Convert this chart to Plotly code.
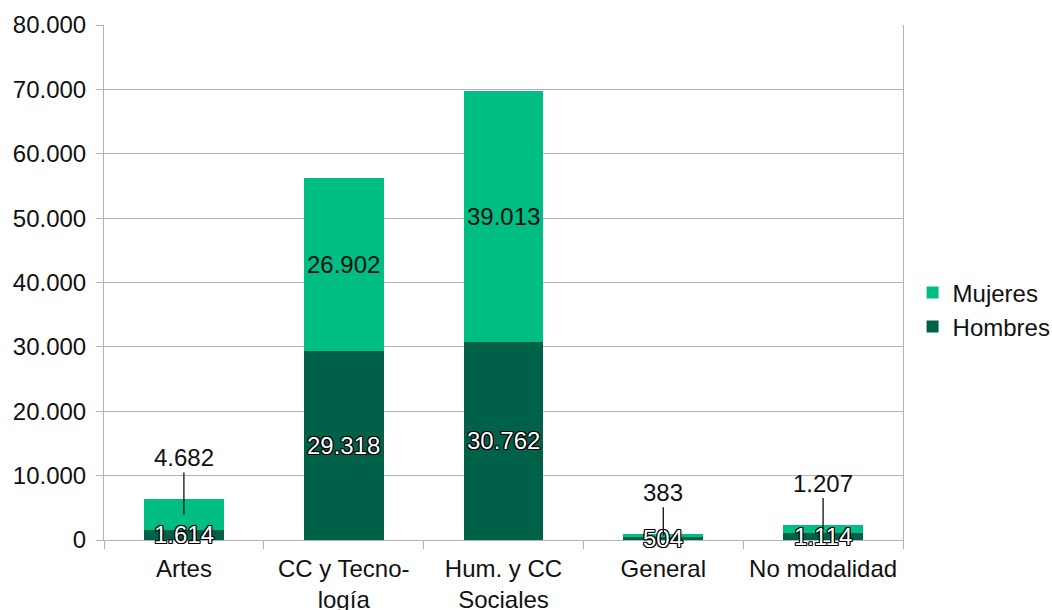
import plotly.graph_objects as go

categories = ["Artes", "CC y Tecno-<br>logía", "Hum. y CC<br>Sociales", "General", "No modalidad"]
hombres = [1614, 29318, 30762, 504, 1114]
mujeres = [4682, 26902, 39013, 383, 1207]
y_ticks = [0, 10000, 20000, 30000, 40000, 50000, 60000, 70000, 80000]

C_MUJ = "#00bd84"
C_HOM = "#006149"
FONT = "Liberation Sans"
TXT = "#111111"
FS = 24

W, H = 1052, 610
M_L, M_R, M_T, M_B = 104, 149, 25, 70
Y_MAX = 80000
px_per_unit = (H - M_T - M_B) / Y_MAX


def fmt(v):
    return f"{v:,}".replace(",", ".")


fig = go.Figure()
fig.add_trace(go.Bar(name="Hombres", x=categories, y=hombres, marker=dict(color=C_HOM, line=dict(width=0)), width=0.5))
fig.add_trace(go.Bar(name="Mujeres", x=categories, y=mujeres, marker=dict(color=C_MUJ, line=dict(width=0)), width=0.5))

outline = "1px 1px 0 #000, -1px -1px 0 #000, 1px -1px 0 #000, -1px 1px 0 #000, 0 1px 0 #000, 0 -1px 0 #000, 1px 0 0 #000, -1px 0 0 #000"
annotations = []
for c, h, m in zip(categories, hombres, mujeres):
    annotations.append(dict(x=c, y=h / 2, text=fmt(h), showarrow=False,
                            font=dict(family=FONT, size=FS, color="white", shadow=outline)))
    if m * px_per_unit > 40:
        annotations.append(dict(x=c, y=h + m / 2, text=fmt(m), showarrow=False,
                                font=dict(family=FONT, size=FS, color=TXT)))
    else:
        ay = -(42 + m / 2 * px_per_unit)
        annotations.append(dict(x=c, y=h + m / 2, text=fmt(m), showarrow=True,
                                arrowhead=0, arrowwidth=1.3, arrowcolor="#111111",
                                ax=0, ay=ay, standoff=0,
                                font=dict(family=FONT, size=FS, color=TXT)))

fig.update_layout(
    barmode="stack",
    width=W, height=H,
    margin=dict(l=M_L, r=M_R, t=M_T, b=M_B, autoexpand=False),
    paper_bgcolor="white", plot_bgcolor="white",
    separators=",.",
    font=dict(family=FONT, size=FS, color=TXT),
    bargap=0.5,
    showlegend=True,
    legend=dict(x=1.012, y=0.447, xanchor="left", yanchor="middle",
                font=dict(family=FONT, size=FS, color=TXT), traceorder="reversed",
                itemwidth=30, tracegroupgap=0),
    annotations=annotations,
)
fig.update_xaxes(
    automargin=False,
    showgrid=False, ticks="outside", tickson="boundaries", ticklen=8,
    tickcolor="#b3b3b3", showline=True, linecolor="#b3b3b3", linewidth=1,
    tickfont=dict(family=FONT, size=FS, color=TXT), ticklabelstandoff=7,
)
fig.update_yaxes(
    automargin=False,
    range=[0, Y_MAX], tickvals=y_ticks, ticktext=[fmt(v) for v in y_ticks],
    showgrid=True, gridcolor="#b3b3b3", gridwidth=1,
    ticks="outside", ticklen=7, tickcolor="#b3b3b3",
    showline=True, linecolor="#b3b3b3", linewidth=1, mirror=True,
    zeroline=False,
    tickfont=dict(family=FONT, size=FS, color=TXT), ticklabelstandoff=5,
)

# remove the default 8px page margin so the 1052x610 figure fills the window exactly
fig.write_html("out.html", config={"displayModeBar": False},
               post_script="document.body.style.margin='0';document.body.style.overflow='hidden';")
